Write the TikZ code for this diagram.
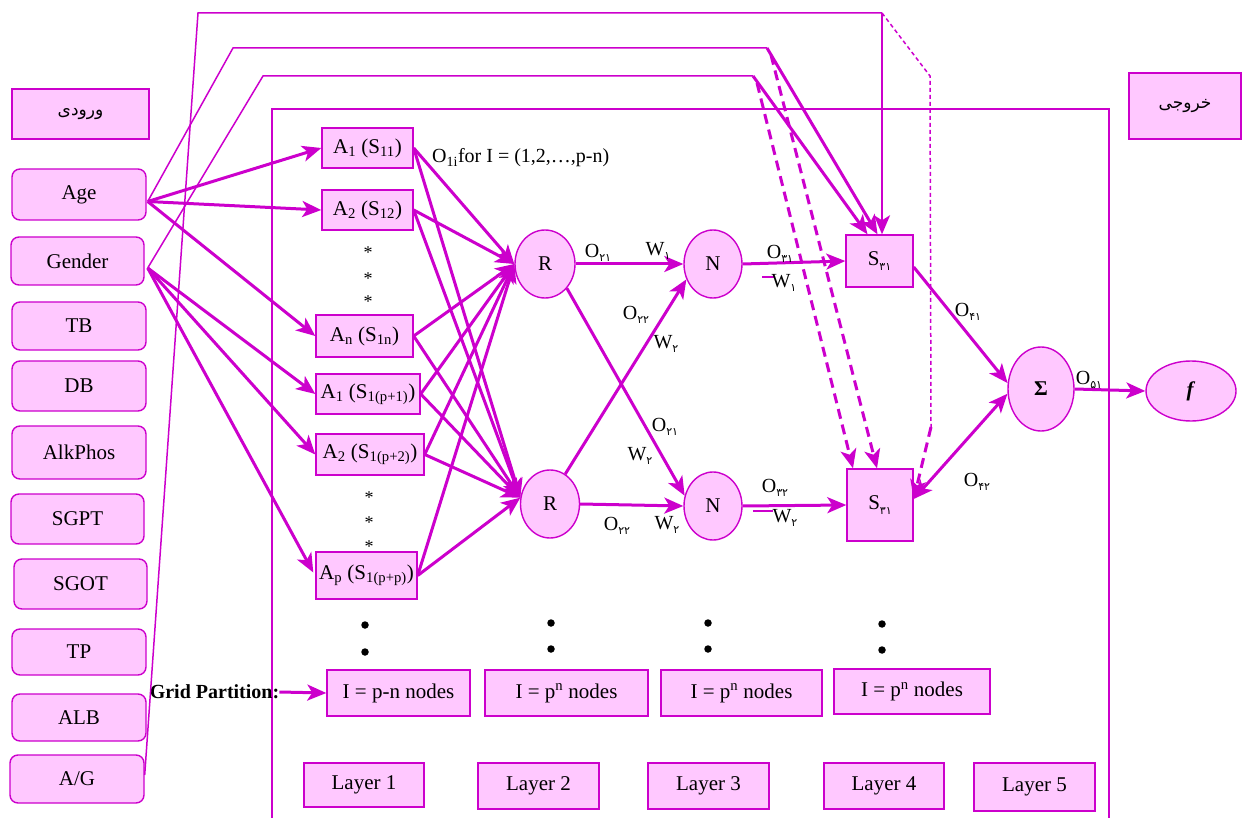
\documentclass[tikz,border=0pt]{standalone}
\usepackage{fontspec}
\setmainfont{Liberation Serif}
\newfontfamily\arabicfont[Script=Arabic]{DejaVu Sans}
\TeXXeTstate=1
\usetikzlibrary{arrows.meta,shapes.geometric,calc}
\definecolor{mag}{RGB}{204,0,204}
\definecolor{pinkf}{RGB}{255,200,255}
\newcommand\psub[1]{\raisebox{-0.45ex}{\arabicfont\fontsize{11}{11}\selectfont #1}}
\tikzset{
 every node/.style={font=\fontsize{21}{25}\selectfont, inner sep=0pt},
 inbox/.style={draw=mag, fill=pinkf, line width=1.4pt, rounded corners=8pt, minimum width=134pt},
 sqbox/.style={draw=mag, fill=pinkf, line width=1.4pt},
 oval/.style={ellipse, draw=mag, fill=pinkf, line width=1.4pt},
 tip/.tip={Stealth[length=19pt,width=16pt,inset=5pt]},
 arr/.style={draw=mag, line width=3pt, -tip},
 biarr/.style={draw=mag, line width=3pt, tip-tip},
 darr/.style={arr, dash pattern=on 10pt off 6pt},
 thinl/.style={draw=mag, line width=1.5pt},
 lbl/.style={font=\fontsize{20}{23}\selectfont},
 dotc/.style={circle, fill=black, minimum size=7.5pt},
 star/.style={font=\fontsize{18}{20}\selectfont},
}
\begin{document}
\begin{tikzpicture}[x=1pt,y=-1pt]
\useasboundingbox (0,0) rectangle (1242,818);
% frame
\draw[thinl] (272,818) -- (272,109) -- (1109,109) -- (1109,818);
% input column
\node[sqbox, minimum width=137pt, minimum height=50pt] (inp) at (80.5,114) {\arabicfont\fontsize{17}{19}\selectfont\beginR ورودی\endR};
\node[inbox, minimum height=51pt] (Age) at (79,194.5) {Age};
\node[inbox, minimum width=133pt, minimum height=48pt] (Gen) at (77.5,261) {Gender};
\node[inbox, minimum height=48pt] (TB) at (79,326) {TB};
\node[inbox, minimum height=50pt] (DB) at (79,386) {DB};
\node[inbox, minimum height=53pt] (Alk) at (79,452.5) {AlkPhos};
\node[inbox, minimum width=133pt, minimum height=50pt] (SGPT) at (77.5,519) {SGPT};
\node[inbox, minimum width=133pt, minimum height=50pt] (SGOT) at (80.5,584) {SGOT};
\node[inbox, minimum height=46pt] (TP) at (79,652) {TP};
\node[inbox, minimum height=47pt] (ALB) at (79,717.5) {ALB};
\node[inbox, minimum height=48pt] (AG) at (77,779) {A/G};
% output label
\node[sqbox, minimum width=112pt, minimum height=66pt] (outp) at (1185,106) {\arabicfont\fontsize{17}{19}\selectfont\beginR خروجی\endR};
% layer 1
\node[sqbox, minimum width=91pt, minimum height=40pt] (A1) at (367.5,148) {A\textsubscript{1} (S\textsubscript{11})};
\node[sqbox, minimum width=91pt, minimum height=40pt] (A2) at (367.5,210) {A\textsubscript{2} (S\textsubscript{12})};
\node[sqbox, minimum width=97pt, minimum height=42pt] (An) at (364.5,336) {A\textsubscript{n} (S\textsubscript{1n})};
\node[sqbox, minimum width=104pt, minimum height=40pt] (Ap1) at (368,394) {A\textsubscript{1} (S\textsubscript{1(p+1)})};
\node[sqbox, minimum width=108pt, minimum height=41pt] (Ap2) at (370,454.5) {A\textsubscript{2} (S\textsubscript{1(p+2)})};
\node[sqbox, minimum width=101pt, minimum height=47pt] (Ap) at (366.5,575.5) {A\textsubscript{p} (S\textsubscript{1(p+p)})};
\foreach \y [count=\i] in {253,279,302} \node[star] (sa\i) at (368,\y) {*};
\foreach \y [count=\i] in {498,523,547} \node[star] (sb\i) at (369,\y) {*};
\node[lbl, anchor=west] (o1i) at (432,158) {O\textsubscript{1i}for I = (1,2,…,p-n)};
% layer 2,3
\node[oval, minimum width=60pt, minimum height=68pt] (Ru) at (545,264) {R};
\node[oval, minimum width=59pt, minimum height=68pt] (Rl) at (550,504) {R};
\node[oval, minimum width=58pt, minimum height=68pt] (Nu) at (713,264) {N};
\node[oval, minimum width=58pt, minimum height=68pt] (Nl) at (713,506) {N};
% layer 4
\node[sqbox, minimum width=67pt, minimum height=52pt] (Su) at (879.5,261) {S\psub{۳۱}};
\node[sqbox, minimum width=66pt, minimum height=72pt] (Sl) at (880,505) {S\psub{۳۱}};
% layer 5
\node[oval, minimum width=66pt, minimum height=84pt] (Sig) at (1041,389) {\textbf{Σ}};
\node[oval, minimum width=90pt, minimum height=60pt] (f) at (1191,391) {\textbf{\textit{f}}};
% grid partition row
\node[font=\fontsize{20}{24}\selectfont\bfseries] (gp) at (214.5,692) {Grid Partition:};
\node[sqbox, minimum width=143pt, minimum height=46pt] (G1) at (398.5,693) {I = p-n nodes};
\node[sqbox, minimum width=163pt, minimum height=46pt] (G2) at (566.5,693) {I = p\textsuperscript{n} nodes};
\node[sqbox, minimum width=161pt, minimum height=46pt] (G3) at (741.5,693) {I = p\textsuperscript{n} nodes};
\node[sqbox, minimum width=156pt, minimum height=45pt] (G4) at (912,691.5) {I = p\textsuperscript{n} nodes};
\node[sqbox, minimum width=120pt, minimum height=44pt] (L1) at (364,785) {Layer 1};
\node[sqbox, minimum width=121pt, minimum height=46pt] (L2) at (538.5,786) {Layer 2};
\node[sqbox, minimum width=121pt, minimum height=46pt] (L3) at (708.5,786) {Layer 3};
\node[sqbox, minimum width=120pt, minimum height=46pt] (L4) at (884,786) {Layer 4};
\node[sqbox, minimum width=121pt, minimum height=48pt] (L5) at (1034.5,787) {Layer 5};
% dots
\foreach \x/\ya/\yb [count=\i] in {365/625/652, 551/623/649, 708/623/649, 882/624/650} {
  \node[dotc] (da\i) at (\x,\ya) {};
  \node[dotc] (db\i) at (\x,\yb) {};
}
% coordinates
\coordinate (ageO) at ($(Age.east)+(1,7)$);
\coordinate (genO) at ($(Gen.east)+(3,7)$);
\coordinate (agO) at ($(AG.east)+(0,-4)$);
\coordinate (r1a) at (198,13);
\coordinate (r1b) at (882,13);
\coordinate (r1c) at (930,76);
\coordinate (r1d) at (931,427);
\coordinate (r2a) at (233,48);
\coordinate (r2b) at (767,48);
\coordinate (r2d) at (771,55);
\coordinate (r3a) at (263,76);
\coordinate (r3b) at (753,76);
\coordinate (r3d) at (757,83);
% routing lines
\draw[thinl] (agO) -- (r1a) -- (r1b);
\draw[arr, line width=2.4pt] (r1b) -- (r1b |- Su.north);
\draw[thinl, dash pattern=on 4pt off 3pt] (r1b) -- (r1c) -- (r1d);
\draw[darr] (r1d) -- ($(Sl.east)+(0,-6)$);
\draw[thinl] (ageO) -- (r2a) -- (r2b);
\draw[arr] (r2b) -- ($(Su.north)+(-2,0)$);
\draw[darr] (r2d) -- ($(Sl.north)+(-3,0)$);
\draw[thinl] (genO) -- (r3a) -- (r3b);
\draw[arr] (r3b) -- ($(Su.north)+(-12,0)$);
\draw[darr] (r3d) -- ($(Sl.north)+(-27,0)$);
% inputs to layer 1
\draw[arr] (ageO) -- (A1.west);
\draw[arr] (ageO) -- (A2.west);
\draw[arr] (ageO) -- (An.west);
\draw[arr] (genO) -- (Ap1.west);
\draw[arr] (genO) -- (Ap2.west);
\draw[arr] (genO) -- ($(Ap.west)+(-2,-3)$);
% layer 1 to layer 2
\foreach \a in {A1,A2,An,Ap1,Ap2,Ap} {
  \draw[arr] (\a.east) -- (Ru.west);
  \draw[arr] (\a.east) -- (Rl.168);
}
% layer 2 to 3
\draw[arr] (Ru.east) -- (Nu.west);
\draw[arr] (Ru.-48) -- (Nl.160);
\draw[arr] (Rl.63) -- (Nu.210);
\draw[arr] (Rl.east) -- (Nl.west);
% layer 3 to 4
\draw[arr] (Nu.east) -- (Su.west);
\draw[arr] (Nl.east) -- (Sl.west);
% layer 4 to 5
\draw[arr] ($(Su.east)+(0,6)$) -- (Sig.170);
\draw[biarr] ($(Sl.east)+(0,-6)$) -- (Sig.188);
\draw[arr] (Sig.east) -- (f.west);
\draw[arr] (gp.east) -- (G1.west);
% small strokes
\draw[draw=mag, line width=1.5pt] (762,277) -- (775,277);
\draw[draw=mag, line width=1.5pt] (753,511) -- (773,511);
% labels
\node[lbl] (o21a) at (598,253) {O\psub{۲۱}};
\node[lbl] (w1a) at (658,251) {W\psub{۱}};
\node[lbl] (o22a) at (636,315) {O\psub{۲۲}};
\node[lbl] (w2a) at (666,344) {W\psub{۲}};
\node[lbl] (o21b) at (665,427) {O\psub{۲۱}};
\node[lbl] (w2b) at (640,456) {W\psub{۲}};
\node[lbl] (o22b) at (617,526) {O\psub{۲۲}};
\node[lbl] (w2c) at (667,525) {W\psub{۲}};
\node[lbl] (o31) at (780,254) {O\psub{۳۱}};
\node[lbl] (w1b) at (784,283) {W\psub{۱}};
\node[lbl] (o32) at (775,488) {O\psub{۳۲}};
\node[lbl] (w2d) at (785,518) {W\psub{۲}};
\node[lbl] (o41) at (968,312) {O\psub{۴۱}};
\node[lbl] (o51) at (1089,380) {O\psub{۵۱}};
\node[lbl] (o42) at (977,482) {O\psub{۴۲}};
\end{tikzpicture}
\end{document}
